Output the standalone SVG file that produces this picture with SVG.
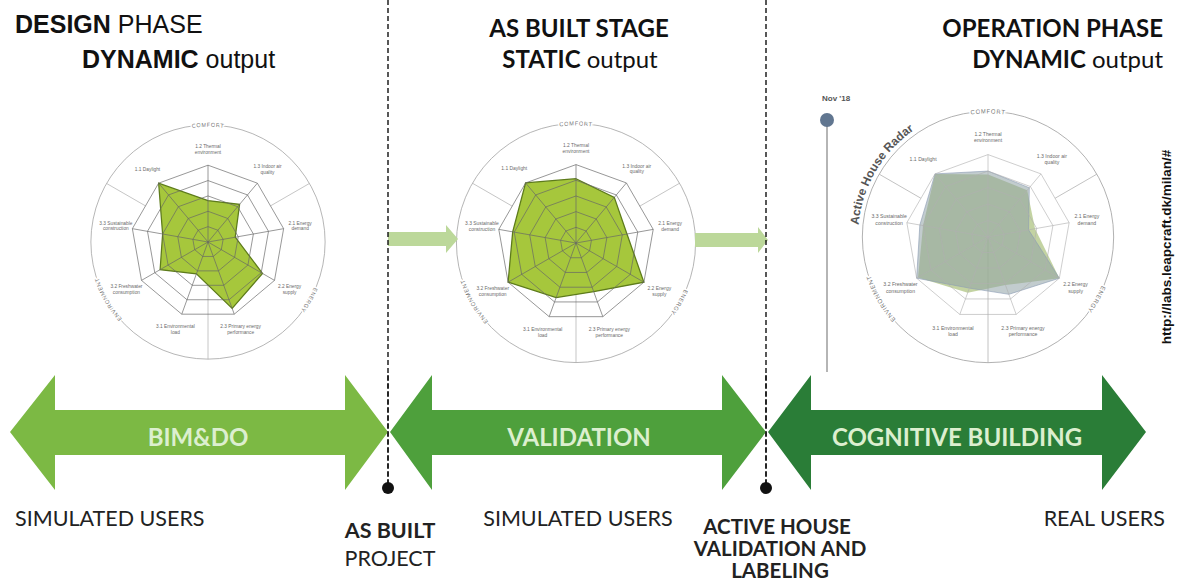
<svg xmlns="http://www.w3.org/2000/svg" xmlns:xlink="http://www.w3.org/1999/xlink" width="1178" height="580" viewBox="0 0 1178 580">
<style>
.arial{font-family:"Liberation Sans",Arial,sans-serif;}
.lato{font-family:Lato,"Liberation Sans",sans-serif;}
.hdr{font-size:25px;fill:#111;}
.hdl{font-size:24px;fill:#111;}
.b{font-weight:bold;}
.big{font-family:Lato,"Liberation Sans",sans-serif;font-weight:bold;font-size:24px;fill:#dcefcf;text-anchor:middle;}
.low{font-family:Lato,"Liberation Sans",sans-serif;font-size:21.5px;fill:#222;}
.low2{font-family:Lato,"Liberation Sans",sans-serif;font-size:20.5px;fill:#222;font-weight:bold;text-anchor:middle;}
.ax{font-family:"Liberation Sans",Arial,sans-serif;font-size:5px;fill:#6a6a6a;text-anchor:middle;}
.cat{font-family:"Liberation Sans",Arial,sans-serif;font-size:6px;fill:#777;letter-spacing:0.5px;stroke:#fff;stroke-width:3px;paint-order:stroke;text-anchor:middle;}
.webd{fill:none;stroke:#666;stroke-width:0.7;}
.webl{fill:none;stroke:#b0b0b0;stroke-width:0.6;}
.dash{stroke:#111;stroke-width:1.4;stroke-dasharray:5 3;fill:none;}
</style>
<defs>
<path id="ringpath" d="M0,120 A120,120 0 1,1 0,-120 A120,120 0 1,1 0,120"/>
<g id="frame">
<circle r="122" fill="none" stroke="#a0a0a0" stroke-width="0.8"/>
<path d="M65.1,-37.6L105.65,-61 M-65.1,-37.6L-105.65,-61 M0,0L0,122" fill="none" stroke="#aaa" stroke-width="0.7"/>
<text class="cat"><textPath href="#ringpath" startOffset="50%">COMFORT</textPath></text>
<text class="cat"><textPath href="#ringpath" startOffset="83.3%">ENERGY</textPath></text>
<text class="cat"><textPath href="#ringpath" startOffset="16.7%">ENVIRONMENT</textPath></text>
</g>
<g id="web">
<polygon points="0,-80 51.42,-61.28 78.78,-13.89 69.28,40 27.36,75.18 -27.36,75.18 -69.28,40 -78.78,-13.89 -51.42,-61.28"/>
<polygon points="0,-64 41.14,-49.02 63.03,-11.11 55.42,32 21.89,60.14 -21.89,60.14 -55.42,32 -63.03,-11.11 -41.14,-49.02"/>
<polygon points="0,-48 30.85,-36.77 47.27,-8.33 41.57,24 16.42,45.11 -16.42,45.11 -41.57,24 -47.27,-8.33 -30.85,-36.77"/>
<polygon points="0,-32 20.57,-24.51 31.51,-5.56 27.71,16 10.94,30.07 -10.94,30.07 -27.71,16 -31.51,-5.56 -20.57,-24.51"/>
<polygon points="0,-16 10.28,-12.26 15.76,-2.78 13.86,8 5.47,15.04 -5.47,15.04 -13.86,8 -15.76,-2.78 -10.28,-12.26"/>
<path d="M0,0L0,-80 M0,0L51.42,-61.28 M0,0L78.78,-13.89 M0,0L69.28,40 M0,0L27.36,75.18 M0,0L-27.36,75.18 M0,0L-69.28,40 M0,0L-78.78,-13.89 M0,0L-51.42,-61.28"/>
</g>
<g id="labels" class="ax">
<text x="0" y="-98">1.2 Thermal</text><text x="0" y="-92">environment</text>
<text x="62" y="-77">1.3 Indoor air</text><text x="62" y="-71">quality</text>
<text x="96" y="-18">2.1 Energy</text><text x="96" y="-12">demand</text>
<text x="85" y="48">2.2 Energy</text><text x="85" y="54">supply</text>
<text x="34" y="90">2.3 Primary energy</text><text x="34" y="96">performance</text>
<text x="-34" y="90">3.1 Environmental</text><text x="-34" y="96">load</text>
<text x="-85" y="48">3.2 Freshwater</text><text x="-85" y="54">consumption</text>
<text x="-96" y="-18">3.3 Sustainable</text><text x="-96" y="-12">construction</text>
<text x="-63" y="-74">1.1 Daylight</text>
</g>
</defs>
<rect width="1178" height="580" fill="#fff"/>

<g id="header-design">
<text class="arial hdr" x="15" y="33"><tspan class="b">DESIGN</tspan> PHASE</text>
<text class="arial hdr" x="82" y="68"><tspan class="b">DYNAMIC</tspan> output</text>
</g>
<g id="header-asbuilt">
<text class="lato hdl b" x="579" y="37" text-anchor="middle">AS BUILT STAGE</text>
<text class="lato hdl" x="580" y="68" text-anchor="middle"><tspan class="b">STATIC</tspan> output</text>
</g>
<g id="header-operation">
<text class="lato hdl b" x="1163" y="37" text-anchor="end">OPERATION PHASE</text>
<text class="lato hdl" x="1163" y="68" text-anchor="end"><tspan class="b">DYNAMIC</tspan> output</text>
</g>

<g id="radar-design" transform="translate(208,242) scale(0.96)">
<use href="#frame"/>
<polygon points="0,-43.2 32.91,-39.22 28.36,-5 56.81,32.8 25.17,69.16 -12.04,33.08 -49.88,28.8 -47.27,-8.33 -51.42,-61.28" fill="#a6c73c" stroke="#5d7b1b" stroke-width="1.3"/>
<use href="#web" class="webd"/>
<use href="#labels"/>
</g>

<g id="radar-asbuilt" transform="translate(576,243) scale(0.98)">
<use href="#frame"/>
<polygon points="0,-65.6 39.08,-46.57 52,-9.17 69.28,40 18.06,49.62 -20.25,55.63 -69.28,40 -64.6,-11.39 -51.42,-61.28" fill="#a6c73c" stroke="#5d7b1b" stroke-width="1.3"/>
<use href="#web" class="webd"/>
<use href="#labels"/>
</g>

<g id="radar-operation">
<g transform="translate(988,237) scale(1.03)">
<use href="#frame"/>
<polygon points="0,-60.8 38.05,-45.35 45.69,-8.06 69.28,40 16.96,46.61 -19.7,54.13 -67.89,39.2 -63.03,-11.11 -51.42,-61.28" fill="#a9c07a" fill-opacity="0.7"/>
<polygon points="0,-64 40.11,-47.8 39.39,-6.94 69.28,40 20.25,55.63 -18.06,49.62 -69.28,40 -66.18,-11.67 -51.42,-61.28" fill="#8fa3a6" fill-opacity="0.55" stroke="#8b9cb5" stroke-width="0.6"/>
<use href="#web" class="webl"/>
<use href="#labels"/>
</g>
<path id="ahr" d="M858,237 A130,130 0 0,1 988,107" fill="none"/>
<text class="arial b" font-size="12" fill="#555"><textPath href="#ahr" startOffset="12">Active House Radar</textPath></text>
<line x1="827" y1="120" x2="827" y2="372" stroke="#b5b5b5" stroke-width="2"/>
<circle cx="827" cy="120" r="7" fill="#617690"/>
<text class="arial b" x="822" y="101" font-size="8" fill="#555">Nov '18</text>
<text class="arial b" font-size="13.5" fill="#111" text-anchor="middle" transform="translate(1171,247) rotate(-90)">http://labs.leapcraft.dk/milan/#</text>
</g>

<g id="connectors">
<polygon id="small-arrow-1" points="388,232 446,232 446,225 458,239 446,253 446,246 388,246" fill="#bcd89a"/>
<polygon id="small-arrow-2" points="695,233 758,233 758,227 768,240 758,253 758,247 695,247" fill="#bcd89a"/>
<line class="dash" x1="388" y1="0" x2="388" y2="488"/>
<line class="dash" x1="766" y1="0" x2="766" y2="488"/>
<circle cx="388" cy="488" r="6" fill="#111"/>
<circle cx="766" cy="488" r="6" fill="#111"/>
</g>

<g id="arrow-bimdo">
<path d="M10,432 L55,375 L55,410 L345,410 L345,375 L388,432 L345,490 L345,455 L55,455 L55,490 Z" fill="#7cb944"/>
<text class="big" x="198" y="446">BIM&amp;DO</text>
</g>
<g id="arrow-validation">
<path d="M390,432 L432,375 L432,410 L722,410 L722,375 L766,432 L722,490 L722,455 L432,455 L432,490 Z" fill="#4ea03c"/>
<text class="big" x="579" y="446">VALIDATION</text>
</g>
<g id="arrow-cognitive">
<path d="M768,432 L811,375 L811,410 L1102,410 L1102,375 L1146,432 L1102,490 L1102,455 L811,455 L811,490 Z" fill="#2a7d37"/>
<text class="big" x="957" y="446">COGNITIVE BUILDING</text>
</g>
<g id="dash-overlay">
<line class="dash" x1="388" y1="375" x2="388" y2="488"/>
<line class="dash" x1="766" y1="375" x2="766" y2="488"/>
</g>

<g id="bottom-labels">
<text class="low" x="15" y="526">SIMULATED USERS</text>
<text class="low b" x="390" y="538" text-anchor="middle">AS BUILT</text>
<text class="low" x="390" y="566" text-anchor="middle">PROJECT</text>
<text class="low" x="578" y="526" text-anchor="middle">SIMULATED USERS</text>
<text class="low2" x="777" y="534">ACTIVE HOUSE</text>
<text class="low2" x="780" y="556">VALIDATION AND</text>
<text class="low2" x="780" y="578">LABELING</text>
<text class="low" x="1165" y="526" text-anchor="end">REAL USERS</text>
</g>
</svg>
